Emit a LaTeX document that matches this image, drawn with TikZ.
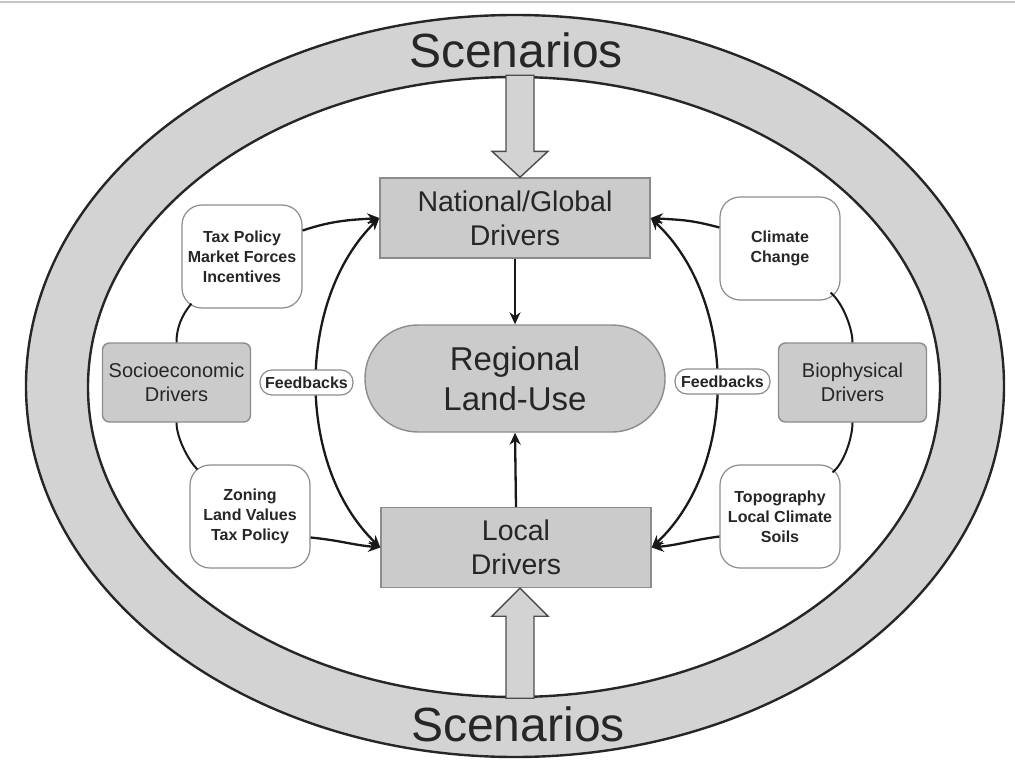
\documentclass[tikz,border=0pt]{standalone}
\usepackage{fontspec}
\setmainfont{Liberation Sans}
\usetikzlibrary{arrows.meta}

\definecolor{ringgray}{HTML}{D3D3D3}
\definecolor{boxgray}{HTML}{CBCBCB}
\definecolor{edgegray}{HTML}{8C8C8C}

\begin{document}
\begin{tikzpicture}[x=1pt, y=-1pt, >={Stealth[length=12pt,width=11pt]},
    every node/.style={align=center, inner sep=0pt, text=black!85},
    ring/.style={draw=black!85, line width=2.4pt},
    driver/.style={rectangle, draw=edgegray, fill=boxgray, line width=1.4pt, minimum width=270pt, minimum height=80pt, font=\fontsize{28.5}{34}\selectfont},
    landuse/.style={rectangle, rounded corners=53pt, draw=edgegray, fill=boxgray, line width=1.4pt, minimum width=300pt, minimum height=107pt, font=\fontsize{33}{40}\selectfont},
    sidebox/.style={rectangle, rounded corners=7pt, draw=edgegray, fill=boxgray, line width=1.4pt, minimum width=148pt, minimum height=79pt, font=\fontsize{20}{24}\selectfont},
    factor/.style={rectangle, rounded corners=20pt, draw=edgegray, fill=white, line width=1.2pt, minimum width=120pt, minimum height=103pt, font=\bfseries\fontsize{16}{20}\selectfont},
    fback/.style={rectangle, rounded corners=12pt, draw=edgegray, fill=white, line width=1.2pt, minimum height=25pt, font=\bfseries\fontsize{16}{20}\selectfont},
    scen/.style={anchor=base, font=\fontsize{48}{56}\selectfont},
    blockarrow/.style={draw=black!70, fill=ringgray, line width=1.4pt, line join=miter},
    link/.style={line width=2.3pt, draw=black!90},
    tie/.style={line width=2pt, draw=black!90}]
    \useasboundingbox (0,0) rectangle (1015,760);
    \draw[gray!45, line width=1.2pt] (0,2) -- (1015,2);

    % scenario ring
    \draw[ring, fill=ringgray] (515,386) ellipse [x radius=489, y radius=371];
    \draw[ring, fill=white] (514,387) ellipse [x radius=426, y radius=310];
    \node[scen] (scentop) at (516,67) {Scenarios};
    \node[scen] (scenbot) at (518,741) {Scenarios};

    % main column
    \node[driver] (nat) at (515,218) {National/Global\\Drivers};
    \node[landuse] (reg) at (515,378.5) {Regional\\Land-Use};
    \node[driver] (loc) at (516,547.5) {Local\\Drivers};

    % side drivers
    \node[sidebox] (socio) at (176.5,382.5) {Socioeconomic\\Drivers};
    \node[sidebox] (bio) at (852.5,382.5) {Biophysical\\Drivers};
    \node[factor] (tax) at (242,256.5) {Tax Policy\\Market Forces\\Incentives};
    \node[factor] (zon) at (250,516.5) {Zoning\\Land Values\\Tax Policy};
    \node[factor] (clim) at (780,248.5) {Climate\\Change};
    \node[factor] (topo) at (780,516.5) {Topography\\Local Climate\\Soils};

    % block arrows from the scenarios
    \draw[blockarrow] ([xshift=5pt]nat.north) -- ++(-28,-26) -- ++(14,0) -- ++(0,-76)
        -- ++(28,0) -- ++(0,76) -- ++(14,0) -- cycle;
    \draw[blockarrow] ([xshift=4pt]loc.south) -- ++(-28,28) -- ++(14,0) -- ++(0,82)
        -- ++(28,0) -- ++(0,-82) -- ++(14,0) -- cycle;

    \draw[->, link] (nat.south) -- (reg.north);
    \draw[->, link] (loc.north) -- (reg.south);

    % feedback arcs
    \draw[<->, link] (nat.west) .. controls +(-83,82) and +(-85,-82) .. (loc.west);
    \draw[<->, link] (nat.east) .. controls +(87,82) and +(87,-82) .. (loc.east);
    \node[fback, minimum width=93pt] (fbl) at (306.5,382.5) {Feedbacks};
    \node[fback, minimum width=95pt] (fbr) at (722.5,381.5) {Feedbacks};

    \draw[->, link] ([yshift=26pt]tax.east) .. controls +(30,-10) and +(-30,2) .. (nat.west);
    \draw[->, link] ([yshift=-21pt]zon.east) .. controls +(30,3) and +(-30,-3) .. (loc.west);
    \draw[->, link] ([yshift=21pt]clim.west) .. controls +(-30,-8) and +(30,2) .. (nat.east);
    \draw[->, link] ([yshift=-20pt]topo.west) .. controls +(-30,4) and +(30,-3) .. (loc.east);

    % factor groups
    \draw[tie] ([xshift=10pt,yshift=5pt]tax.south west) .. controls +(-10,12) and +(0,-14) .. (socio.north);
    \draw[tie] (socio.south) .. controls +(0,14) and +(-10,-10) .. ([xshift=8pt,yshift=-5pt]zon.north west);
    \draw[tie] ([xshift=-10pt,yshift=8pt]clim.south east) .. controls +(12,10) and +(0,-14) .. (bio.north);
    \draw[tie] (bio.south) .. controls +(0,14) and +(12,-10) .. ([xshift=-8pt,yshift=-8pt]topo.north east);
\end{tikzpicture}
\end{document}
